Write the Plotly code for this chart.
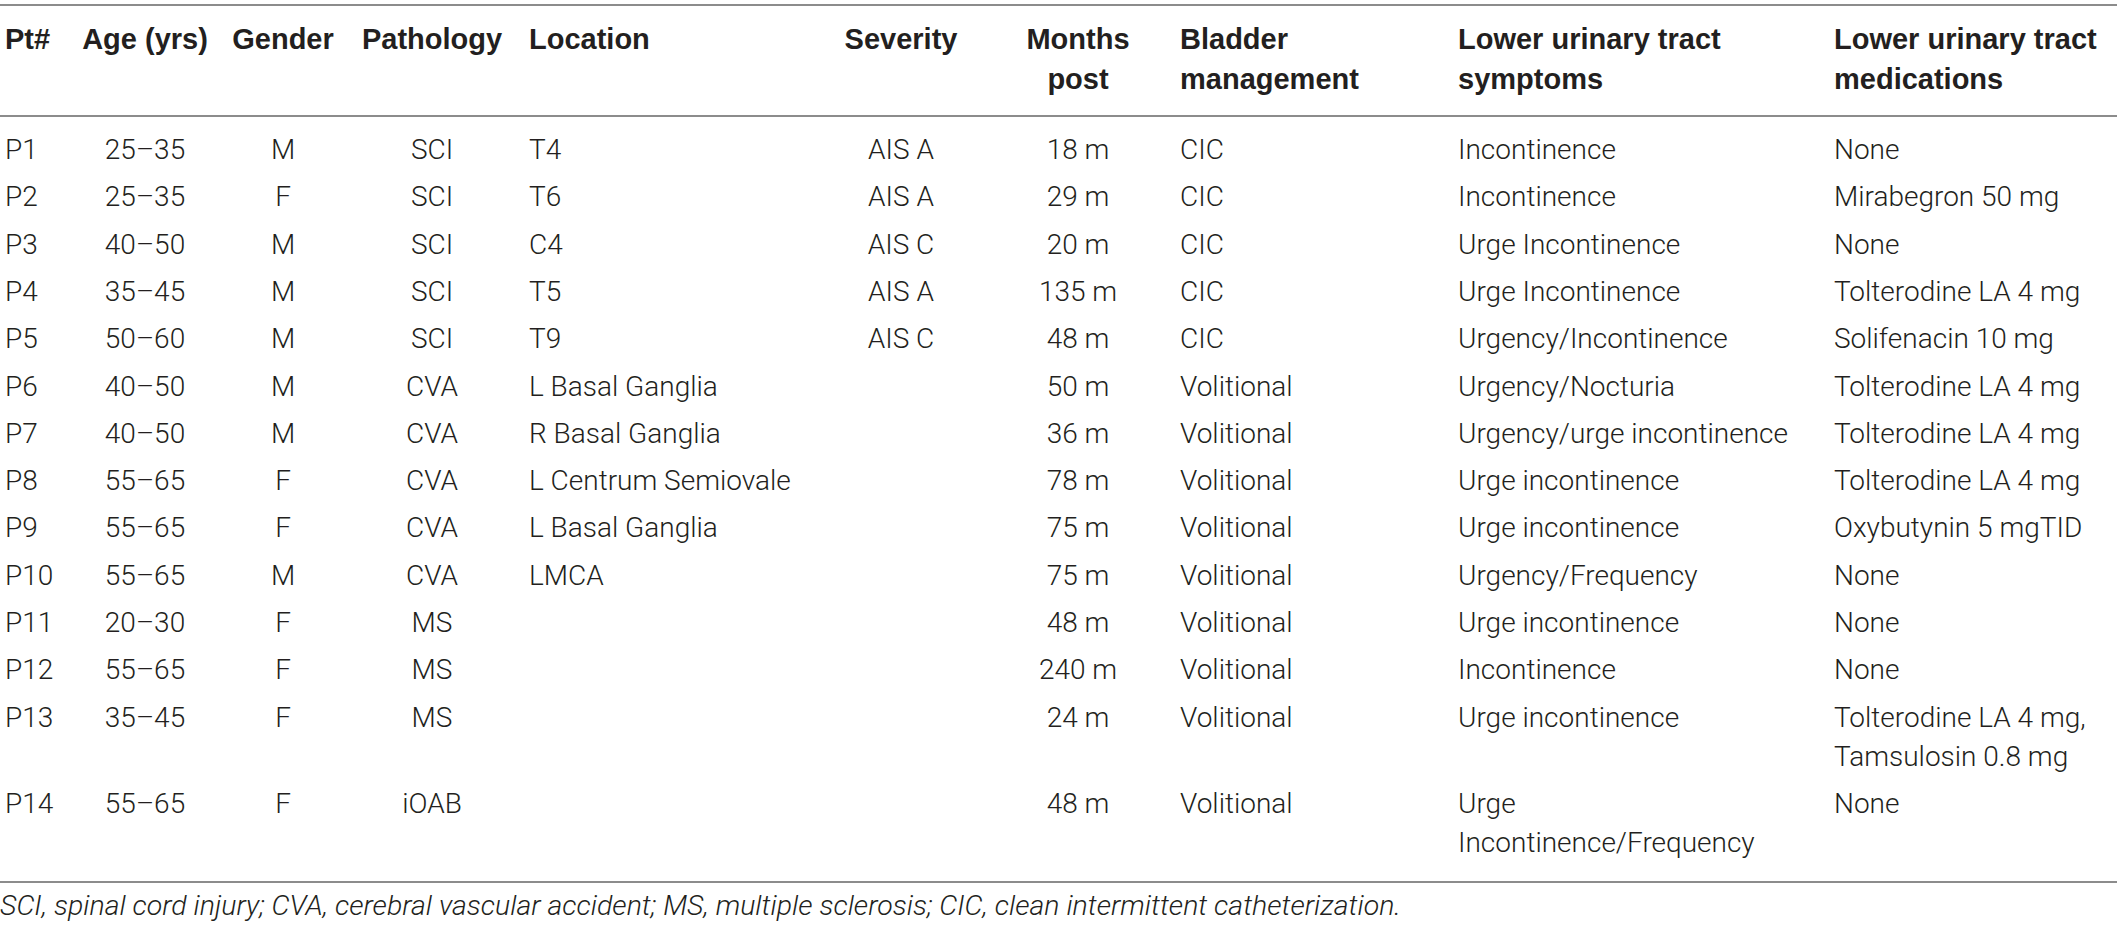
import plotly.graph_objects as go

# table contents
headers = ["Pt#", "Age (yrs)", "Gender", "Pathology", "Location", "Severity",
           "Months\npost", "Bladder\nmanagement", "Lower urinary tract\nsymptoms",
           "Lower urinary tract\nmedications"]
patients = ["P1", "P2", "P3", "P4", "P5", "P6", "P7", "P8", "P9", "P10", "P11", "P12", "P13", "P14"]
ages = ["25–35", "25–35", "40–50", "35–45", "50–60", "40–50", "40–50", "55–65", "55–65",
        "55–65", "20–30", "55–65", "35–45", "55–65"]
genders = ["M", "F", "M", "M", "M", "M", "M", "F", "F", "M", "F", "F", "F", "F"]
pathology = ["SCI", "SCI", "SCI", "SCI", "SCI", "CVA", "CVA", "CVA", "CVA", "CVA",
             "MS", "MS", "MS", "iOAB"]
locations = ["T4", "T6", "C4", "T5", "T9", "L Basal Ganglia", "R Basal Ganglia",
             "L Centrum Semiovale", "L Basal Ganglia", "LMCA", "", "", "", ""]
severity = ["AIS A", "AIS A", "AIS C", "AIS A", "AIS C", "", "", "", "", "", "", "", "", ""]
months = ["18 m", "29 m", "20 m", "135 m", "48 m", "50 m", "36 m", "78 m", "75 m",
          "75 m", "48 m", "240 m", "24 m", "48 m"]
bladder = ["CIC", "CIC", "CIC", "CIC", "CIC", "Volitional", "Volitional", "Volitional",
           "Volitional", "Volitional", "Volitional", "Volitional", "Volitional", "Volitional"]
symptoms = ["Incontinence", "Incontinence", "Urge Incontinence", "Urge Incontinence",
            "Urgency/Incontinence", "Urgency/Nocturia", "Urgency/urge incontinence",
            "Urge incontinence", "Urge incontinence", "Urgency/Frequency",
            "Urge incontinence", "Incontinence", "Urge incontinence",
            "Urge\nIncontinence/Frequency"]
medications = ["None", "Mirabegron 50 mg", "None", "Tolterodine LA 4 mg",
               "Solifenacin 10 mg", "Tolterodine LA 4 mg", "Tolterodine LA 4 mg",
               "Tolterodine LA 4 mg", "Oxybutynin 5 mgTID", "None", "None", "None",
               "Tolterodine LA 4 mg,\nTamsulosin 0.8 mg", "None"]
footnote = ("SCI, spinal cord injury; CVA, cerebral vascular accident; MS, multiple sclerosis; "
            "CIC, clean intermittent catheterization.")

columns = [patients, ages, genders, pathology, locations, severity, months, bladder,
           symptoms, medications]

# column anchors (px) and alignment
col_x = [5, 145, 283, 432, 529, 901, 1078, 1180, 1458, 1834]
col_pos = ["middle right", "middle center", "middle center", "middle center", "middle right",
           "middle center", "middle center", "middle right", "middle right", "middle right"]

W, H = 2117, 930
TXT = "#231f20"
LINE = "#8c8c8c"

HEAD_Y0, HEAD_LINE = 42, 40
BODY_Y0, ROW_GAP, BODY_LINE = 152, 47.3, 39

fig = go.Figure()

# header cells
hx, hy, ht, hp = [], [], [], []
for c, h in enumerate(headers):
    for k, part in enumerate(h.split("\n")):
        hx.append(col_x[c])
        hy.append(HEAD_Y0 + k * HEAD_LINE)
        ht.append(part)
        hp.append(col_pos[c])
fig.add_trace(go.Scatter(x=hx, y=hy, text=ht, mode="text", textposition=hp,
                         textfont=dict(family="Liberation Sans", size=29, color=TXT,
                                       weight="bold"),
                         hoverinfo="skip"))

# body cells, each row as tall as its tallest cell
bx, by, bt, bp = [], [], [], []
y_row = BODY_Y0
for r in range(len(patients)):
    n = 1
    for c, col in enumerate(columns):
        parts = col[r].split("\n")
        n = max(n, len(parts))
        for k, part in enumerate(parts):
            if part:
                bx.append(col_x[c])
                by.append(y_row + k * BODY_LINE)
                bt.append(part)
                bp.append(col_pos[c])
    last_line = y_row + (n - 1) * BODY_LINE
    y_row = last_line + ROW_GAP
fig.add_trace(go.Scatter(x=bx, y=by, text=bt, mode="text", textposition=bp,
                         textfont=dict(family="Roboto", size=28, color=TXT, weight=300),
                         hoverinfo="skip"))

bottom_y = last_line + 37
for yl in [5, 116, bottom_y]:
    fig.add_shape(type="line", x0=0, x1=W, y0=yl, y1=yl, xref="x", yref="y",
                  line=dict(color=LINE, width=2))

fig.add_trace(go.Scatter(x=[0], y=[bottom_y + 26], text=[footnote], mode="text",
                         textposition="middle right",
                         textfont=dict(family="Roboto", size=28.5, color=TXT, weight=300,
                                       style="italic"),
                         hoverinfo="skip"))

fig.update_layout(
    width=W, height=H,
    margin=dict(l=0, r=0, t=0, b=0),
    paper_bgcolor="white", plot_bgcolor="white",
    showlegend=False,
    xaxis=dict(range=[0, W], visible=False, fixedrange=True),
    yaxis=dict(range=[H, 0], visible=False, fixedrange=True),
)

fig.write_html("out.html", config={"displayModeBar": False},
               post_script="document.body.style.margin='0';")
